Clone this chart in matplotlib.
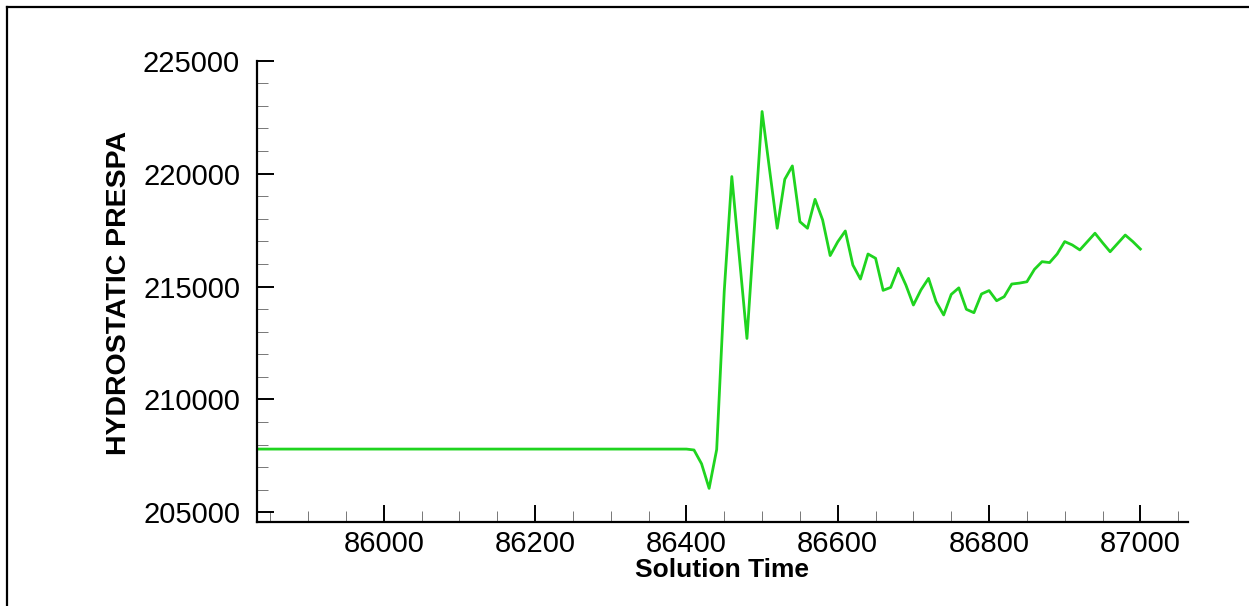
import numpy as np
import matplotlib
matplotlib.use("Agg")
import matplotlib.pyplot as plt
from matplotlib.lines import Line2D
from matplotlib.ticker import MultipleLocator

plt.rcParams['font.family'] = ['Liberation Sans', 'DejaVu Sans']

# solution time (s): steady section, then every 10 s after the event
t_start = 85830
t_event = np.arange(86400, 87001, 10)
time = np.concatenate([[t_start], t_event])

# hydrostatic pressure (Pa)
p_steady = 207800
p_event = [207800, 207760, 207150, 206060, 207780, 214800, 219870, 216300, 212700, 217700,
           222750, 220150, 217580, 219750, 220340, 217870, 217580, 218860, 217950, 216370,
           216980, 217460, 215950, 215330, 216440, 216250, 214830, 214960, 215810, 215070,
           214180, 214850, 215360, 214330, 213740, 214650, 214940, 213990, 213840, 214670,
           214820, 214370, 214550, 215110, 215150, 215210, 215760, 216100, 216060, 216440,
           216990, 216840, 216620, 216990, 217360, 216940, 216540, 216910, 217280, 216990,
           216660]
pressure = np.concatenate([[p_steady], p_event])

fig = plt.figure(figsize=(12.49, 6.06), dpi=100)
ax = fig.add_axes([0.2055, 0.1386, 0.7457, 0.7612])

ax.plot(time, pressure, color='#1fd41f', lw=2.0)

ax.set_xlim(85832, 87063)
ax.set_ylim(204570, 225000)

for side in ('top', 'right'):
    ax.spines[side].set_visible(False)
for side in ('left', 'bottom'):
    ax.spines[side].set_linewidth(1.6)

ax.xaxis.set_major_locator(MultipleLocator(200))
ax.xaxis.set_minor_locator(MultipleLocator(50))
ax.yaxis.set_major_locator(MultipleLocator(5000))
ax.yaxis.set_minor_locator(MultipleLocator(1000))
ax.tick_params(which='major', direction='in', length=12, width=1.4,
               labelsize=21, pad=6)
ax.tick_params(which='minor', direction='in', length=8, width=0.7, color='#777777')
ax.tick_params(axis='y', which='major', pad=12)

ax.set_xlabel('Solution Time', fontsize=19, fontweight='bold', labelpad=0)
ax.set_ylabel('HYDROSTATIC PRESPA', fontsize=20.5, fontweight='bold')
ax.yaxis.set_label_coords(-0.134, 0.497)

# frame drawn round the plot area
fig.add_artist(Line2D([7 / 1249, 1.0], [1 - 7 / 606, 1 - 7 / 606],
                      transform=fig.transFigure, color='black', lw=1.6))
fig.add_artist(Line2D([7 / 1249, 7 / 1249], [0.0, 1 - 7 / 606],
                      transform=fig.transFigure, color='black', lw=1.6))

fig.savefig('out.png', dpi=100)
